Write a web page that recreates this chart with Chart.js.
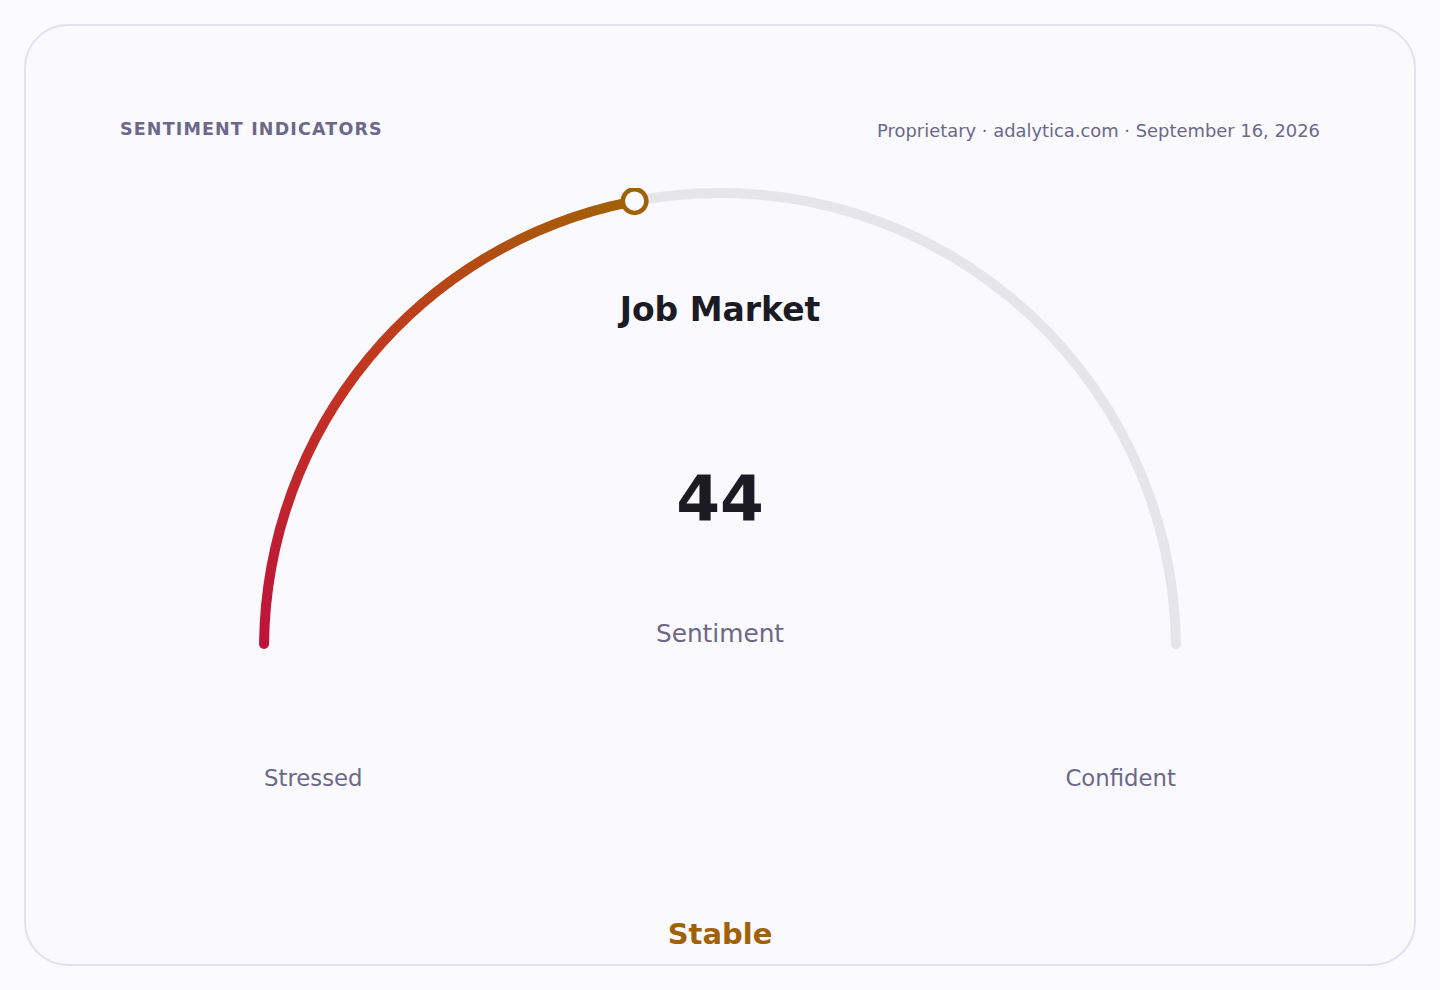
<!DOCTYPE html>
<html>
<head>
<meta charset="utf-8">
<title>Job Market Sentiment</title>
<script src="https://cdn.jsdelivr.net/npm/chart.js@4.4.1/dist/chart.umd.min.js"></script>
<style>
  html, body { margin: 0; padding: 0; }
  body {
    width: 1440px; height: 990px; position: relative; overflow: hidden;
    background: #fafaff;
    font-family: "DejaVu Sans", Verdana, sans-serif;
  }
  .card {
    position: absolute; left: 24px; top: 24px; width: 1388px; height: 938px;
    border: 2px solid #e3e1f1; border-radius: 44px; background: #f9f9fe;
  }
  .txt { position: absolute; line-height: 1; white-space: nowrap; transform: translateY(-50%); }
  .center { left: 0; width: 1440px; text-align: center; }
  #kicker { left: 120px; top: 130px; font-size: 17.5px; font-weight: bold; letter-spacing: 1.15px; color: #6c6889; }
  #source { right: 120px; top: 131px; font-size: 17.9px; color: #6c6889; }
  #title { top: 309px; font-size: 33px; font-weight: bold; color: #1c1b24; }
  #value { top: 498px; font-size: 63px; font-weight: bold; color: #1c1b24; }
  #metric { top: 634px; font-size: 24.8px; color: #6c6889; }
  #lowLabel { left: 264px; top: 778px; font-size: 22.8px; color: #6c6889; }
  #highLabel { right: 264px; top: 778px; font-size: 22.8px; color: #6c6889; }
  #status { top: 934px; font-size: 29px; font-weight: bold; color: #a16207; }
  #gaugeBox { position: absolute; left: 259px; top: 188px; width: 922px; height: 461px; }
</style>
</head>
<body>
<div class="card"></div>
<div class="txt" id="kicker">SENTIMENT INDICATORS</div>
<div class="txt" id="source">Proprietary · adalytica.com · September 16, 2026</div>
<div class="txt center" id="title">Job Market</div>
<div class="txt center" id="value"></div>
<div class="txt center" id="metric">Sentiment</div>
<div class="txt" id="lowLabel"></div>
<div class="txt" id="highLabel"></div>
<div class="txt center" id="status">Stable</div>
<div id="gaugeBox"><canvas id="gauge"></canvas></div>

<script>
// gauge data
const gaugeLabels = ['Sentiment', 'Remaining'];
const gaugeValues = [44, 56];
const scaleEnds = ['Stressed', 'Confident'];
const fillStops = ['#be123c', '#c2381f', '#a16207'];
const trackColor = '#e6e5eb';
const markerColor = '#a16207';

document.getElementById('value').textContent = gaugeValues[0];
document.getElementById('lowLabel').textContent = scaleEnds[0];
document.getElementById('highLabel').textContent = scaleEnds[1];

const total = gaugeValues.reduce((a, b) => a + b, 0);

// gradient follows the filled arc, from the left end to the value
function sliceColor(context) {
    if (context.dataIndex !== 0) return trackColor;
    const chart = context.chart;
    const area = chart.chartArea;
    if (!area) return fillStops[0];
    const cx = (area.left + area.right) / 2;
    const cy = area.bottom;
    const frac = gaugeValues[0] / total * 0.5;
    const g = chart.ctx.createConicGradient(Math.PI, cx, cy);
    g.addColorStop(0, fillStops[0]);
    g.addColorStop(frac / 2, fillStops[1]);
    g.addColorStop(frac, fillStops[2]);
    g.addColorStop(Math.min(frac + 0.01, 1), fillStops[2]);
    g.addColorStop(0.99, fillStops[0]);
    return g;
}

const markerPlugin = {
    id: 'marker',
    afterDatasetsDraw(chart) {
        const arc = chart.getDatasetMeta(0).data[0];
        if (!arc) return;
        const p = arc.getProps(['x', 'y', 'endAngle', 'innerRadius', 'outerRadius'], true);
        const r = (p.innerRadius + p.outerRadius) / 2;
        const mx = p.x + Math.cos(p.endAngle) * r;
        const my = p.y + Math.sin(p.endAngle) * r;
        const ctx = chart.ctx;
        ctx.save();
        ctx.beginPath();
        ctx.arc(mx, my, 11.8, 0, Math.PI * 2);
        ctx.fillStyle = '#fafaff';
        ctx.fill();
        ctx.lineWidth = 4.5;
        ctx.strokeStyle = markerColor;
        ctx.stroke();
        ctx.restore();
    }
};

const ctx = document.getElementById('gauge').getContext('2d');
const gauge = new Chart(ctx, {
    type: 'doughnut',
    data: {
        labels: gaugeLabels,
        datasets: [{
            data: gaugeValues,
            backgroundColor: sliceColor,
            borderWidth: 0,
            borderRadius: 5,
            spacing: 0
        }]
    },
    options: {
        responsive: true,
        maintainAspectRatio: false,
        animation: false,
        events: [],
        rotation: -90,
        circumference: 180,
        cutout: '97.83%',
        layout: { padding: 0 },
        plugins: {
            legend: { display: false },
            tooltip: { enabled: false }
        }
    },
    plugins: [markerPlugin]
});
</script>
</body>
</html>
